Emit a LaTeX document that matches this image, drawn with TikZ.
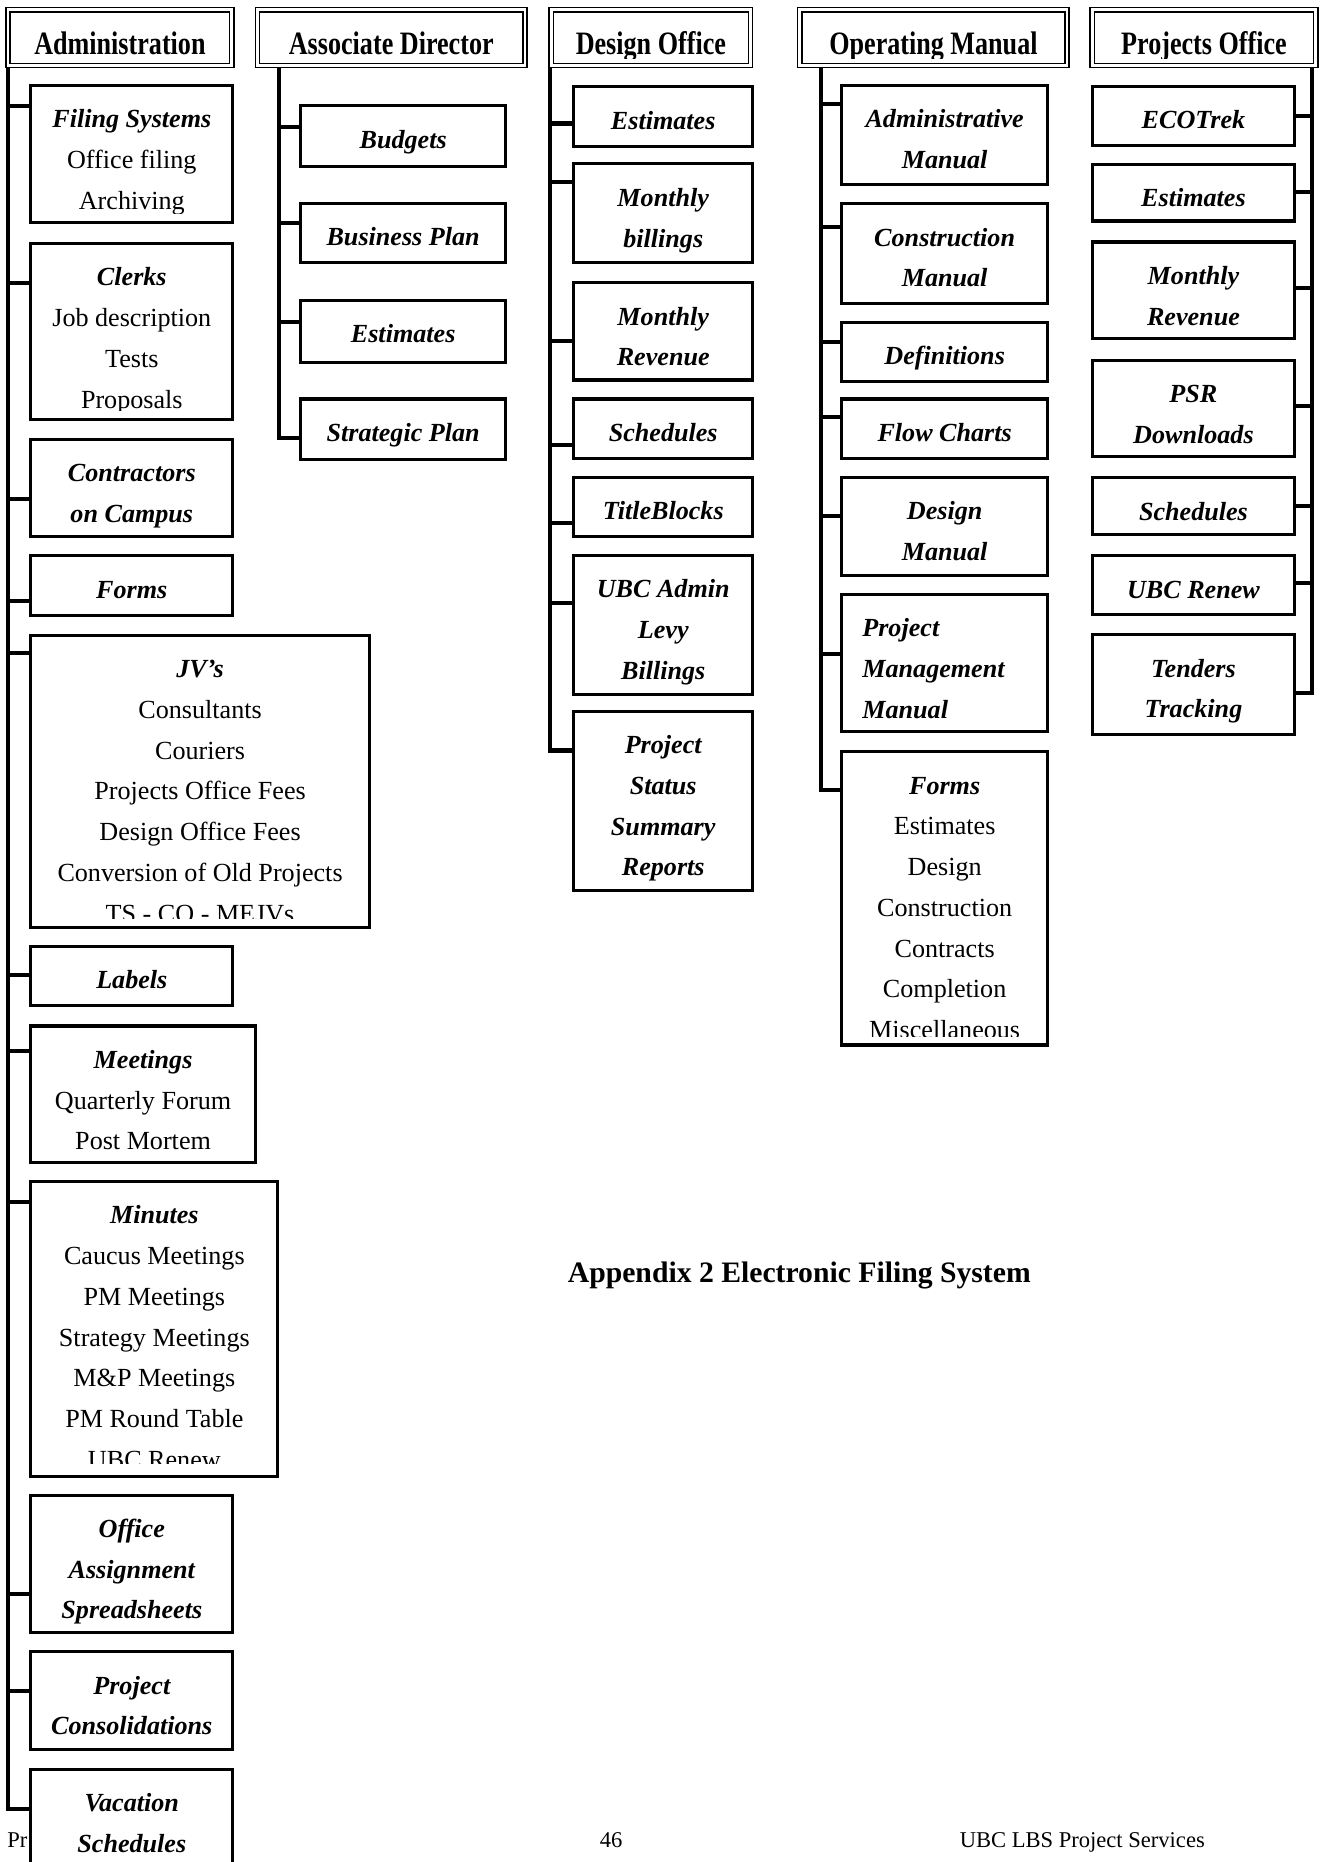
\documentclass[tikz,border=0pt]{standalone}
\usepackage{fontspec}
\setmainfont{Liberation Serif}
\usepackage{graphicx}
\usetikzlibrary{fit}

% bold italic folder title
\newcommand\ttl[1]{{\bfseries\itshape #1}}

\tikzset{
  trunk/.style={line width=3.4pt, line join=miter},
  card/.style={draw, line width=2.6pt, fill=white, inner sep=0pt, rectangle},
  cardtext/.style={inner sep=0pt, font=\fontsize{22}{34.3}\selectfont},
  headframe/.style={draw, line width=1.3pt, fill=white, inner sep=0pt, rectangle},
  headline/.style={line width=1.3pt},
  foot/.style={inner sep=0pt, anchor=base west, font=\fontsize{19}{23}\selectfont},
}

% a folder box: [clip margin], name, x1, y1, x2, y2, lines (text clipped near the bottom edge)
\newcommand\filecard[7][7.5]{%
  \node[card, fit={(#3,#4) (#5,#6)}] (#2) {};
  \begin{scope}
    \clip (#3,#4) rectangle (#5,#6-#1);
    \node[cardtext, anchor=north, align=center] (#2-txt) at ({(#3+#5)/2},#4+11.5) {\strut #7};
  \end{scope}}
% same, with left-aligned lines
\newcommand\filecardleft[7][7.5]{%
  \node[card, fit={(#3,#4) (#5,#6)}] (#2) {};
  \begin{scope}
    \clip (#3,#4) rectangle (#5,#6-#1);
    \node[cardtext, anchor=north west, align=left] (#2-txt) at (#3+17,#4+11.5) {\strut #7};
  \end{scope}}
% column heading with a double frame: name, x1, x2, text
\newcommand\colhead[4]{%
  \node[headframe, fit={(#2,6.5) (#3,57)}] (#1) {};
  \draw[headline] (#2+3.6,10.2) rectangle (#3-3.6,53.4);
  \begin{scope}
    \clip (#2+3.6,10.2) rectangle (#3-3.6,49);
    \node[inner sep=0pt, anchor=base, font=\fontsize{22}{26}\selectfont\bfseries] (#1-txt) at ({(#2+#3)/2},45.5) {\scalebox{1}[1.25]{#4}};
  \end{scope}}
% branch from a trunk to a box: junction name, trunk x, y, box anchor
\newcommand\twig[4]{%
  \coordinate (#1) at (#2,#3);
  \draw[trunk] (#1) -- (#1 -| #4);}

\begin{document}
\begin{tikzpicture}[x=1pt,y=-1pt]
\useasboundingbox (0,0) rectangle (1116,1568);
\fill[white] (0,0) rectangle (1116,1568);
\clip (0,0) rectangle (1116,1568);

% page footer and caption
\node[foot] (foot-left) at (6,1556) {Pr};
\node[foot] (foot-page) at (505,1556) {46};
\node[foot] (foot-dept) at (808,1556) {UBC LBS Project Services};
\node[inner sep=0pt, anchor=base west, font=\fontsize{25}{30}\selectfont\bfseries] (caption) at (478,1080) {Appendix 2 Electronic Filing System};

% column headings
\colhead{adm}{5}{197}{Administration}
\colhead{assoc}{215}{444}{Associate Director}
\colhead{design}{462.4}{633.8}{Design Office}
\colhead{opman}{671.7}{900.4}{Operating Manual}
\colhead{projects}{918}{1109.7}{Projects Office}

% Administration
\filecard{filing}{26}{72}{196}{187.5}{\ttl{Filing Systems}\\Office filing\\Archiving}
\filecard{clerks}{26}{205}{196}{353}{\ttl{Clerks}\\Job description\\Tests\\Proposals}
\filecard[5]{contractors}{26}{370}{196}{452}{\ttl{Contractors}\\\ttl{on Campus}}
\filecard{admforms}{26}{468}{196}{518}{\ttl{Forms}}
\filecard{jvs}{26}{535}{311}{781}{\ttl{JV’s}\\Consultants\\Couriers\\Projects Office Fees\\Design Office Fees\\Conversion of Old Projects\\TS - CO - MEJVs}
\filecard{labels}{26}{797}{196}{847}{\ttl{Labels}}
\filecard{meetings}{26}{864}{215}{979}{\ttl{Meetings}\\Quarterly Forum\\Post Mortem}
\filecard[10.5]{minutes}{26}{995}{234}{1243}{\ttl{Minutes}\\Caucus Meetings\\PM Meetings\\Strategy Meetings\\M\&P Meetings\\PM Round Table\\UBC Renew}
\filecard{officeassign}{26}{1259}{196}{1375}{\ttl{Office}\\\ttl{Assignment}\\\ttl{Spreadsheets}}
\filecard{consolidations}{26}{1391}{196}{1473}{\ttl{Project}\\\ttl{Consolidations}}
\filecard{vacation}{26}{1490}{196}{1600}{\ttl{Vacation}\\\ttl{Schedules}}

\coordinate (adm-top) at (7,57);
\coordinate (adm-end) at (7,1523);
\draw[trunk] (adm-top) -- (adm-end) -- (adm-end -| vacation.west);
\twig{j-filing}{7}{89}{filing.west}
\twig{j-clerks}{7}{238}{clerks.west}
\twig{j-contractors}{7}{420}{contractors.west}
\twig{j-admforms}{7}{506}{admforms.west}
\twig{j-jvs}{7}{550}{jvs.west}
\twig{j-labels}{7}{821}{labels.west}
\twig{j-meetings}{7}{885}{meetings.west}
\twig{j-minutes}{7}{1012}{minutes.west}
\twig{j-officeassign}{7}{1342}{officeassign.west}
\twig{j-consolidations}{7}{1424}{consolidations.west}

% Associate Director
\filecard{budgets}{253}{89}{426}{140}{\ttl{Budgets}}
\filecard{businessplan}{253}{171}{426}{221}{\ttl{Business Plan}}
\filecard{adestimates}{253}{253}{426}{305}{\ttl{Estimates}}
\filecard{strategic}{253}{336}{426}{387}{\ttl{Strategic Plan}}

\coordinate (assoc-top) at (235,57);
\coordinate (assoc-end) at (235,369);
\draw[trunk] (assoc-top) -- (assoc-end) -- (assoc-end -| strategic.west);
\twig{j-budgets}{235}{107}{budgets.west}
\twig{j-businessplan}{235}{188}{businessplan.west}
\twig{j-adestimates}{235}{271}{adestimates.west}

% Design Office
\filecard{doestimates}{483}{73}{634}{123}{\ttl{Estimates}}
\filecard{dobillings}{483}{138}{634}{221}{\ttl{Monthly}\\\ttl{billings}}
\filecard{dorevenue}{483}{238}{634}{320}{\ttl{Monthly}\\\ttl{Revenue}}
\filecard{doschedules}{483}{336}{634}{386}{\ttl{Schedules}}
\filecard{titleblocks}{483}{402}{634}{452}{\ttl{TitleBlocks}}
\filecard{levy}{483}{467.6}{634}{585}{\ttl{UBC Admin}\\\ttl{Levy}\\\ttl{Billings}}
\filecard{pssr}{483}{599}{634}{750}{\ttl{Project}\\\ttl{Status}\\\ttl{Summary}\\\ttl{Reports}}

\coordinate (design-top) at (463,57);
\coordinate (design-end) at (463,632);
\draw[trunk] (design-top) -- (design-end) -- (design-end -| pssr.west);
\twig{j-doestimates}{463}{104}{doestimates.west}
\twig{j-dobillings}{463}{153}{dobillings.west}
\twig{j-dorevenue}{463}{287}{dorevenue.west}
\twig{j-doschedules}{463}{375}{doschedules.west}
\twig{j-titleblocks}{463}{440.5}{titleblocks.west}
\twig{j-levy}{463}{508}{levy.west}

% Operating Manual
\filecard{adminmanual}{709}{72}{882}{155}{\ttl{Administrative}\\\ttl{Manual}}
\filecard{consmanual}{709}{171.6}{882}{255.5}{\ttl{Construction}\\\ttl{Manual}}
\filecard{definitions}{709}{271.6}{882}{321.2}{\ttl{Definitions}}
\filecard{flowcharts}{709}{336}{882}{386}{\ttl{Flow Charts}}
\filecard{designmanual}{709}{402}{882}{485}{\ttl{Design}\\\ttl{Manual}}
\filecardleft{pmmanual}{709}{500.6}{882}{616}{\ttl{Project}\\\ttl{Management}\\\ttl{Manual}}
\filecard{omforms}{709}{633}{882}{880}{\ttl{Forms}\\Estimates\\Design\\Construction\\Contracts\\Completion\\Miscellaneous}

\coordinate (opman-top) at (691,57);
\coordinate (opman-end) at (691,665);
\draw[trunk] (opman-top) -- (opman-end) -- (opman-end -| omforms.west);
\twig{j-adminmanual}{691}{87.4}{adminmanual.west}
\twig{j-consmanual}{691}{191.5}{consmanual.west}
\twig{j-definitions}{691}{288}{definitions.west}
\twig{j-flowcharts}{691}{351}{flowcharts.west}
\twig{j-designmanual}{691}{434.6}{designmanual.west}
\twig{j-pmmanual}{691}{550.6}{pmmanual.west}

% Projects Office (trunk on the right)
\filecard{ecotrek}{920}{72.7}{1090}{122.3}{\ttl{ECOTrek}}
\filecard{poestimates}{920}{138.3}{1090}{186.1}{\ttl{Estimates}}
\filecard{porevenue}{920}{203.8}{1090}{285.4}{\ttl{Monthly}\\\ttl{Revenue}}
\filecard{psr}{920}{303.2}{1090}{384.7}{\ttl{PSR}\\\ttl{Downloads}}
\filecard{poschedules}{920}{402.4}{1090}{450.2}{\ttl{Schedules}}
\filecard{porenew}{920}{468}{1090}{517.6}{\ttl{UBC Renew}}
\filecard{tenders}{920}{534.6}{1090}{618.6}{\ttl{Tenders}\\\ttl{Tracking}}

\coordinate (projects-top) at (1105,57);
\coordinate (projects-end) at (1105,583.2);
\draw[trunk] (projects-top) -- (projects-end) -- (projects-end -| tenders.east);
\twig{j-ecotrek}{1105}{97.5}{ecotrek.east}
\twig{j-poestimates}{1105}{161.3}{poestimates.east}
\twig{j-porevenue}{1105}{242.8}{porevenue.east}
\twig{j-psr}{1105}{342}{psr.east}
\twig{j-poschedules}{1105}{426.2}{poschedules.east}
\twig{j-porenew}{1105}{491}{porenew.east}
\end{tikzpicture}
\end{document}
